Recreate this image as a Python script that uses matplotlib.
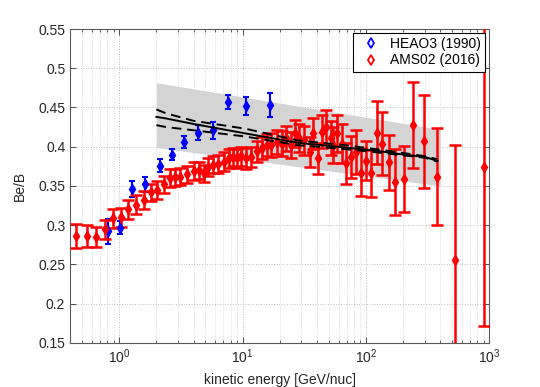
import numpy as np
import matplotlib
matplotlib.use('Agg')
import matplotlib.pyplot as plt
from matplotlib.lines import Line2D
from matplotlib.ticker import FuncFormatter, LogLocator, MultipleLocator

plt.rcParams['font.family'] = ['Liberation Sans', 'DejaVu Sans']

# HEAO3 (1990) Be/B
heao_E = [0.815, 1.01, 1.26, 1.61, 2.12, 2.68, 3.33, 4.35, 5.72, 7.62, 10.7, 16.7]
heao_r = [0.292, 0.297, 0.346, 0.352, 0.376, 0.390, 0.406, 0.418, 0.421, 0.457, 0.452, 0.453]
heao_err = [0.016, 0.008, 0.010, 0.010, 0.008, 0.007, 0.008, 0.010, 0.011, 0.009, 0.012, 0.015]

# AMS02 (2016) Be/B
ams_E = [0.449, 0.544, 0.643, 0.764, 0.894, 1.04, 1.18, 1.37, 1.60, 1.82,
         2.03, 2.30, 2.57, 2.85, 3.13, 3.55, 4.02, 4.41, 4.84, 5.25,
         5.72, 6.31, 7.02, 7.70, 8.36, 9.01, 9.77, 10.7, 11.8, 13.1,
         14.4, 15.7, 17.1, 19.0, 20.8, 22.4, 24.8, 26.4, 28.4, 31.2,
         34.9, 37.5, 40.7, 43.9, 47.6, 51.9, 54.5, 58.7, 63.7, 68.7,
         75.4, 83.0, 90.8, 101, 109, 122, 136, 153, 173, 203,
         242, 295, 378, 526, 908]
ams_r = [0.286, 0.286, 0.285, 0.295, 0.309, 0.310, 0.320, 0.326, 0.332, 0.342,
         0.345, 0.352, 0.360, 0.361, 0.362, 0.365, 0.369, 0.370, 0.366, 0.374,
         0.377, 0.378, 0.381, 0.385, 0.387, 0.385, 0.388, 0.385, 0.387, 0.394,
         0.398, 0.402, 0.402, 0.406, 0.404, 0.411, 0.402, 0.417, 0.411, 0.408,
         0.393, 0.417, 0.385, 0.419, 0.425, 0.411, 0.402, 0.417, 0.404, 0.379,
         0.387, 0.393, 0.367, 0.382, 0.366, 0.418, 0.404, 0.380, 0.355, 0.359,
         0.428, 0.407, 0.362, 0.255, 0.374]
ams_err = [0.015, 0.014, 0.013, 0.012, 0.012, 0.012, 0.012, 0.012, 0.012, 0.011,
           0.011, 0.011, 0.011, 0.011, 0.011, 0.011, 0.011, 0.011, 0.011, 0.011,
           0.011, 0.011, 0.012, 0.012, 0.012, 0.012, 0.012, 0.013, 0.013, 0.013,
           0.014, 0.014, 0.015, 0.015, 0.016, 0.016, 0.017, 0.017, 0.018, 0.018,
           0.019, 0.020, 0.020, 0.021, 0.022, 0.022, 0.023, 0.024, 0.025, 0.026,
           0.027, 0.028, 0.030, 0.025, 0.030, 0.040, 0.040, 0.035, 0.042, 0.042,
           0.055, 0.059, 0.062, 0.147, 0.202]

# model uncertainty band (grey)
band_E = [2.0, 400.0]
band_lo = [0.399, 0.350]
band_hi = [0.4815, 0.422]

# model curves
model_E = [2.0, 2.4, 4.0, 10.5, 28.0, 68.0, 120.0, 200.0, 300.0, 380.0]
model_mid = [0.438, 0.436, 0.429, 0.417, 0.405, 0.399, 0.395, 0.390, 0.387, 0.382]
model_hi = [0.4475, 0.4425, 0.433, 0.423, 0.408, 0.402, 0.397, 0.392, 0.388, 0.384]
model_lo = [0.4275, 0.425, 0.421, 0.413, 0.402, 0.397, 0.393, 0.389, 0.386, 0.381]

fig = plt.figure(figsize=(5.4, 3.87), dpi=100)
ax = fig.add_axes([0.13, 0.114, 0.776, 0.811])

ax.fill_between(band_E, band_lo, band_hi, color='0.83', linewidth=0, zorder=1)
ax.plot(model_E, model_mid, '-', color='k', linewidth=1.4, zorder=4)
ax.plot(model_E, model_hi, '--', color='k', linewidth=1.4, dashes=(5, 3), zorder=4)
ax.plot(model_E, model_lo, '--', color='k', linewidth=1.4, dashes=(5, 3), zorder=4)

ax.errorbar(heao_E, heao_r, yerr=heao_err, fmt='d', color='b', markersize=5,
            elinewidth=1.5, capsize=2.5, capthick=1.5, zorder=3)
ax.errorbar(ams_E, ams_r, yerr=ams_err, fmt='d', color='r', markersize=5,
            elinewidth=1.8, capsize=4.3, capthick=1.8, zorder=3)

ax.set_xscale('log')
ax.set_xlim(0.4, 1000)
ax.set_ylim(0.15, 0.55)
ax.yaxis.set_major_locator(MultipleLocator(0.05))
ax.yaxis.set_major_formatter(FuncFormatter(lambda v, p: '%g' % round(v, 2)))
ax.xaxis.set_major_locator(LogLocator(base=10, numticks=10))
ax.xaxis.set_minor_locator(LogLocator(base=10, subs=np.arange(2, 10), numticks=20))

ax.grid(True, which='major', linestyle=':', color='0.75', linewidth=0.7)
ax.grid(True, which='minor', axis='x', linestyle=':', color='0.83', linewidth=0.6)
ax.set_axisbelow(True)

ax.tick_params(which='both', direction='in', top=True, right=True,
               colors='0.3', labelcolor='#262626', labelsize=10)
ax.tick_params(which='major', length=4, width=0.7)
ax.tick_params(which='minor', length=2.5, width=0.6)
for s in ax.spines.values():
    s.set_color('0.35')
    s.set_linewidth(0.8)

ax.set_xlabel('kinetic energy [GeV/nuc]', fontsize=10, color='#262626', labelpad=5)
ax.set_ylabel('Be/B', fontsize=10, color='#262626', labelpad=8)

handles = [Line2D([], [], linestyle='none', marker='d', markersize=5,
                  markerfacecolor='w', markeredgecolor='b', markeredgewidth=1.3),
           Line2D([], [], linestyle='none', marker='d', markersize=5,
                  markerfacecolor='w', markeredgecolor='r', markeredgewidth=1.3)]
leg = ax.legend(handles, ['HEAO3 (1990)', 'AMS02 (2016)'], loc='upper right',
                fontsize=10, fancybox=False, framealpha=1, edgecolor='k',
                borderpad=0.3, labelspacing=0.15, handletextpad=0.4,
                handlelength=2.0, borderaxespad=0.3)
leg.get_frame().set_linewidth(0.8)

fig.savefig('out.png', dpi=100)
